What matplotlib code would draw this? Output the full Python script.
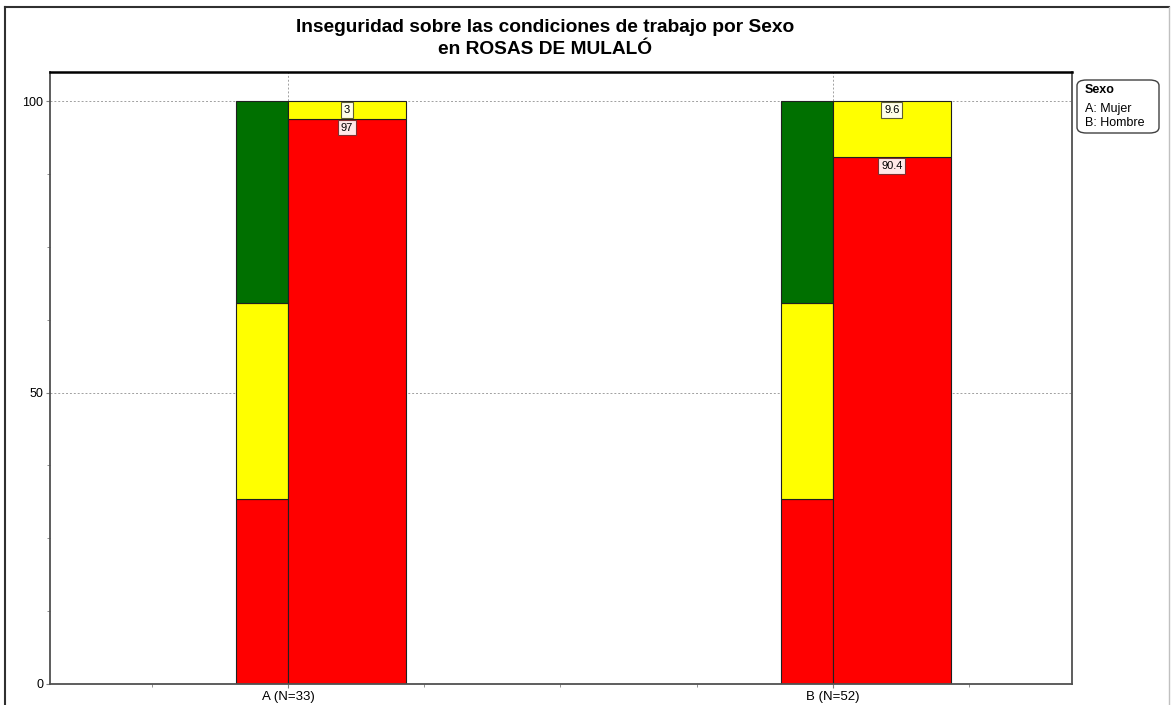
import matplotlib
matplotlib.use("Agg")
import matplotlib.pyplot as plt
import numpy as np
from matplotlib.patches import FancyBboxPatch
from matplotlib.lines import Line2D
from matplotlib.ticker import MultipleLocator

plt.rcParams['font.family'] = ['Liberation Sans', 'DejaVu Sans']

# data
groups = ['A (N=33)', 'B (N=52)']
# reference (narrow) bar: low / mid / high
ref_rojo = [31.7, 31.7]
ref_amarillo = [33.6, 33.6]
ref_verde = [34.7, 34.7]
# main bar
rojo = [97, 90.4]
amarillo = [3, 9.6]
legend_title = 'Sexo'
legend_items = ['A: Mujer', 'B: Hombre']

c_rojo = '#ff0000'
c_amarillo = '#ffff00'
c_verde = '#007000'

W, H = 1171, 705
fig = plt.figure(figsize=(W / 100, H / 100), dpi=100)
ax = fig.add_axes([50 / W, 1 - 684 / H, 1022 / W, 612 / H])

x = np.arange(len(groups))
w_ref = 0.095
w_main = 0.2165
ec = '#202020'
lw = 0.8

ax.bar(x - w_ref / 2, ref_rojo, w_ref, color=c_rojo, edgecolor=ec, linewidth=lw, zorder=2)
ax.bar(x - w_ref / 2, ref_amarillo, w_ref, bottom=ref_rojo, color=c_amarillo,
       edgecolor=ec, linewidth=lw, zorder=2)
bot = np.array(ref_rojo) + np.array(ref_amarillo)
ax.bar(x - w_ref / 2, ref_verde, w_ref, bottom=bot, color=c_verde,
       edgecolor=ec, linewidth=lw, zorder=2)

ax.bar(x + w_main / 2, rojo, w_main, color=c_rojo, edgecolor=ec, linewidth=lw, zorder=2)
ax.bar(x + w_main / 2, amarillo, w_main, bottom=rojo, color=c_amarillo,
       edgecolor=ec, linewidth=lw, zorder=2)

# value labels
for i in range(len(groups)):
    xc = x[i] + w_main / 2
    ax.annotate(f'{amarillo[i]:g}', (xc, rojo[i] + amarillo[i]), xytext=(0, -6.5),
                textcoords='offset points', ha='center', va='center', fontsize=8,
                zorder=5,
                bbox=dict(boxstyle='square,pad=0.25', fc='#ffffe8', ec='#606030', lw=0.8))
    ax.annotate(f'{rojo[i]:g}', (xc, rojo[i]), xytext=(0, -6.5),
                textcoords='offset points', ha='center', va='center', fontsize=8,
                zorder=5,
                bbox=dict(boxstyle='square,pad=0.25', fc='#ffe8e8', ec='#803030', lw=0.8))

ax.set_xlim(-0.437, 1.439)
ax.set_ylim(0, 105)
ax.set_xticks(x)
ax.set_xticklabels(groups, fontsize=9.5)
ax.set_yticks([0, 50, 100])
ax.tick_params(axis='y', labelsize=9)
ax.yaxis.set_minor_locator(MultipleLocator(12.5))
ax.xaxis.set_minor_locator(MultipleLocator(0.25))
ax.tick_params(which='major', length=3, color='#808080', pad=2)
ax.tick_params(which='minor', length=2, color='#808080')

ax.grid(True, which='major', linestyle=(0, (2, 2)), color='#a0a0a0', linewidth=0.7)
ax.set_axisbelow(True)

for s in ['left', 'right', 'bottom']:
    ax.spines[s].set_color('#505050')
    ax.spines[s].set_linewidth(1.3)
ax.spines['top'].set_color('#000000')
ax.spines['top'].set_linewidth(1.8)

# title
fig.text(545 / W, 1 - 27 / H, 'Inseguridad sobre las condiciones de trabajo por Sexo',
         ha='center', va='center', fontsize=13.8, fontweight='bold')
fig.text(545 / W, 1 - 50 / H, 'en ROSAS DE MULALÓ',
         ha='center', va='center', fontsize=13.8, fontweight='bold')

# legend box
box = FancyBboxPatch((1077 / W, 1 - 133 / H), 82 / W, 53 / H,
                     boxstyle='round,pad=0,rounding_size=0.008',
                     transform=fig.transFigure, fc='white', ec='#404040', lw=1)
fig.patches.append(box)
fig.text(1085 / W, 1 - 90 / H, legend_title, ha='left', va='center',
         fontsize=9, fontweight='bold')
for k, t in enumerate(legend_items):
    fig.text(1085 / W, 1 - (109 + 14 * k) / H, t, ha='left', va='center', fontsize=9)

# outer frame
fig.lines.append(Line2D([5 / W, 5 / W], [0, 1 - 7 / H], transform=fig.transFigure,
                        color='#303030', lw=1.5))
fig.lines.append(Line2D([5 / W, 1169 / W], [1 - 7 / H, 1 - 7 / H], transform=fig.transFigure,
                        color='#303030', lw=1.5))
fig.lines.append(Line2D([1169 / W, 1169 / W], [0, 1 - 7 / H], transform=fig.transFigure,
                        color='#c0c0c0', lw=1))

fig.savefig('out.png', dpi=100)
